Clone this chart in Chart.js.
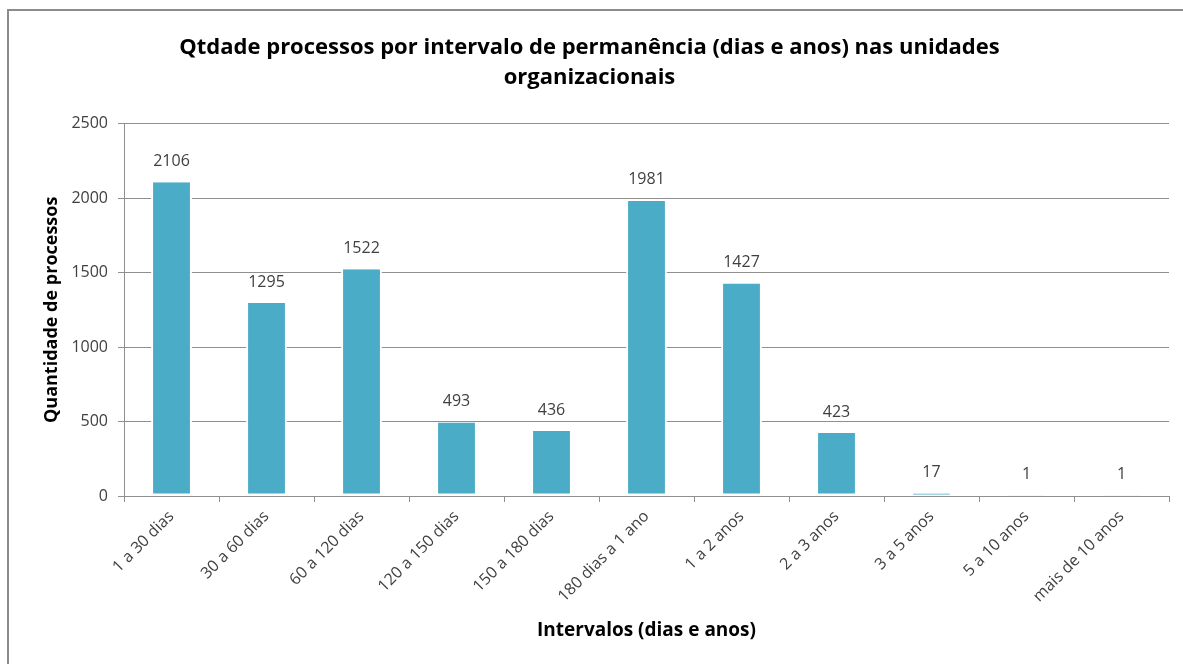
<!DOCTYPE html>
<html>
<head>
<meta charset="utf-8">
<script src="https://cdn.jsdelivr.net/npm/chart.js@4.4.0/dist/chart.umd.min.js"></script>
<style>
    body { margin: 0; background: #fff; overflow: hidden; }
    #wrap { position: relative; width: 1183px; height: 664px; }
    #frame {
        position: absolute; left: 7px; top: 9px; width: 1200px; height: 700px;
        border: 2px solid #8c8c8c; box-sizing: border-box;
    }
    #chart { position: absolute; left: 0; top: 0; }
</style>
</head>
<body>
<div id="wrap">
    <div id="frame"></div>
    <canvas id="chart" width="1183" height="664"></canvas>
</div>
<script>
// Chart data
const categories = ['1 a 30 dias', '30 a 60 dias', '60 a 120 dias', '120 a 150 dias', '150 a 180 dias',
    '180 dias a 1 ano', '1 a 2 anos', '2 a 3 anos', '3 a 5 anos', '5 a 10 anos', 'mais de 10 anos'];
const processCounts = [2106, 1295, 1522, 493, 436, 1981, 1427, 423, 17, 1, 1];
const yTicks = [0, 500, 1000, 1500, 2000, 2500];

const FONT = "'Open Sans', 'Liberation Sans', sans-serif";
const TEXT = '#404040';
const GRID = '#8f8f8f';

// Draw value labels above each bar
const valueLabels = {
    id: 'valueLabels',
    afterDatasetsDraw(chart) {
        const ctx = chart.ctx;
        const meta = chart.getDatasetMeta(0);
        ctx.save();
        ctx.font = '16px ' + FONT;
        ctx.fillStyle = TEXT;
        ctx.textAlign = 'center';
        ctx.textBaseline = 'middle';
        meta.data.forEach((bar, i) => {
            ctx.fillText(String(processCounts[i]), bar.x, bar.y - 21);
        });
        ctx.restore();
    }
};

new Chart(document.getElementById('chart'), {
    type: 'bar',
    data: {
        labels: categories,
        datasets: [{
            data: processCounts,
            backgroundColor: '#4aacc6',
            borderColor: '#ffffff',
            borderWidth: { left: 2, right: 2, top: 0, bottom: 2 },
            borderSkipped: false,
            barPercentage: 0.43,
            categoryPercentage: 1
        }]
    },
    options: {
        responsive: false,
        animation: false,
        layout: { padding: { left: 10, right: 14, top: 10, bottom: 0 } },
        plugins: {
            legend: { display: false },
            tooltip: { enabled: false },
            title: {
                display: true,
                text: ['Qtdade processos por intervalo de permanência (dias e anos) nas unidades', 'organizacionais'],
                color: '#000',
                font: { family: FONT, size: 22, weight: 'bold', lineHeight: 1.4 },
                padding: { top: 22, bottom: 30 }
            }
        },
        scales: {
            x: {
                grid: { display: true, drawOnChartArea: false, color: GRID, tickLength: 6, offset: true },
                border: { color: GRID, width: 1 },
                ticks: {
                    color: TEXT, font: { family: FONT, size: 16 },
                    minRotation: 45, maxRotation: 45, autoSkip: false, padding: 5
                },
                title: {
                    display: true, text: 'Intervalos (dias e anos)', color: '#000',
                    font: { family: FONT, size: 19, weight: 'bold' },
                    padding: { top: 0, bottom: 22 }
                },
                afterFit(scale) { scale.height = 168; }
            },
            y: {
                min: 0, max: 2500,
                afterBuildTicks(scale) { scale.ticks = yTicks.map(v => ({ value: v })); },
                grid: { color: GRID, tickLength: 6 },
                border: { color: GRID, width: 1 },
                ticks: {
                    color: TEXT, font: { family: FONT, size: 16 }, padding: 10,
                    callback: value => String(value)
                },
                title: {
                    display: true, text: 'Quantidade de processos', color: '#000',
                    font: { family: FONT, size: 18, weight: 'bold' },
                    padding: { top: 31, bottom: 0 }
                },
                afterFit(scale) { scale.width = 114; }
            }
        }
    },
    plugins: [valueLabels]
});
</script>
</body>
</html>
